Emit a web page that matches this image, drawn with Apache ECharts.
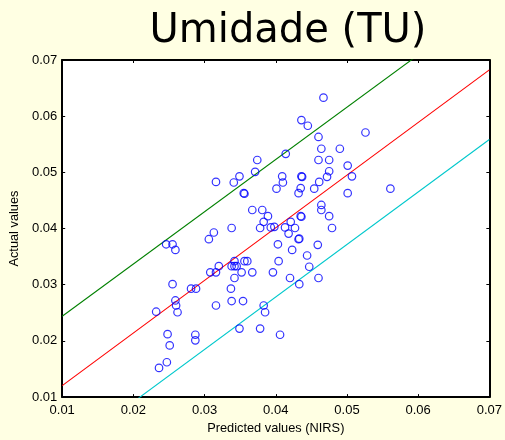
<!DOCTYPE html>
<html>
<head>
<meta charset="utf-8">
<script src="https://cdn.jsdelivr.net/npm/echarts@6/dist/echarts.min.js"></script>
<style>
  html, body { margin: 0; padding: 0; background: #FFFFE3; }
  #chart { width: 505px; height: 440px; }
</style>
</head>
<body>
<div id="chart"></div>
<script>
// Texts
const titleText = 'Umidade (TU)';
const xAxisName = 'Predicted values (NIRS)';
const yAxisName = 'Actual values';

// Axis range and tick labels (same on both axes)
const axisMin = 0.01;
const axisMax = 0.07;
const axisStep = 0.01;
const tickLabels = ['0.01', '0.02', '0.03', '0.04', '0.05', '0.06', '0.07'];

// Samples: NIRS prediction vs. reference value
const predicted = [
  0.0374, 0.0371, 0.0349, 0.0341, 0.0316, 0.0355, 0.0356, 0.0401, 0.0367, 0.0381,
  0.0389, 0.0383, 0.0378, 0.0338, 0.0313, 0.0393, 0.0398, 0.0467, 0.0436, 0.0445,
  0.0526, 0.0460, 0.0414, 0.0464, 0.0490, 0.0460, 0.0475, 0.0501, 0.0409, 0.0436,
  0.0437, 0.0410, 0.0475, 0.0472, 0.0507, 0.0461, 0.0435, 0.0454, 0.0432, 0.0501,
  0.0561, 0.0464, 0.0464, 0.0435, 0.0436, 0.0475, 0.0421, 0.0413, 0.0427, 0.0479,
  0.0306, 0.0246, 0.0255, 0.0259, 0.0403, 0.0342, 0.0356, 0.0360, 0.0320, 0.0338,
  0.0342, 0.0345, 0.0308, 0.0316, 0.0352, 0.0367, 0.0396, 0.0404, 0.0342, 0.0255,
  0.0281, 0.0288, 0.0337, 0.0259, 0.0260, 0.0262, 0.0232, 0.0316, 0.0338, 0.0354,
  0.0383, 0.0385, 0.0248, 0.0287, 0.0287, 0.0251, 0.0349, 0.0378, 0.0406, 0.0247,
  0.0236, 0.0418, 0.0432, 0.0433, 0.0459, 0.0423, 0.0444, 0.0447, 0.0420, 0.0460,
  0.0433
];
const actual = [
  0.0522, 0.0501, 0.0493, 0.0482, 0.0483, 0.0463, 0.0462, 0.0471, 0.0433, 0.0433,
  0.0422, 0.0412, 0.0401, 0.0401, 0.0393, 0.0402, 0.0403, 0.0633, 0.0593, 0.0583,
  0.0571, 0.0563, 0.0533, 0.0542, 0.0542, 0.0522, 0.0522, 0.0512, 0.0493, 0.0493,
  0.0492, 0.0482, 0.0502, 0.0492, 0.0493, 0.0483, 0.0472, 0.0471, 0.0463, 0.0463,
  0.0471, 0.0442, 0.0433, 0.0422, 0.0421, 0.0422, 0.0412, 0.0402, 0.0401, 0.0401,
  0.0381, 0.0372, 0.0372, 0.0362, 0.0372, 0.0342, 0.0342, 0.0342, 0.0333, 0.0333,
  0.0333, 0.0333, 0.0322, 0.0322, 0.0322, 0.0322, 0.0322, 0.0342, 0.0312, 0.0301,
  0.0293, 0.0293, 0.0293, 0.0272, 0.0263, 0.0251, 0.0252, 0.0263, 0.0271, 0.0271,
  0.0263, 0.0251, 0.0212, 0.0211, 0.0201, 0.0192, 0.0222, 0.0222, 0.0211, 0.0162,
  0.0152, 0.0391, 0.0381, 0.0382, 0.0371, 0.0362, 0.0352, 0.0332, 0.0312, 0.0312,
  0.0301
];

// Regression line and its upper / lower limits, given at the two ends of the x range
const lineX = [0.01, 0.07];
const fitLineY = [0.01205, 0.06825];
const upperLineY = [0.0244, 0.0802];
const lowerLineY = [-0.0002, 0.05585];

const tickFont = 'Liberation Sans, Arial, sans-serif';

function tickFormatter(v) {
  const i = Math.round((v - axisMin) / axisStep);
  return tickLabels[i] !== undefined ? tickLabels[i] : '';
}

function frameAxis(position, isMain, extra) {
  return Object.assign({
    type: 'value',
    position: position,
    min: axisMin,
    max: axisMax,
    interval: axisStep,
    axisLine: { show: true, onZero: false, lineStyle: { color: '#000', width: 2 } },
    axisTick: { show: true, inside: true, length: 3, lineStyle: { color: '#000', width: 1 } },
    axisLabel: isMain ? {
      show: true, color: '#000', fontSize: 13, fontFamily: tickFont,
      margin: position === 'bottom' ? 7 : 5,
      formatter: tickFormatter, showMinLabel: true, showMaxLabel: true
    } : { show: false },
    splitLine: { show: false }
  }, extra || {});
}

function linePoints(ys) {
  return lineX.map((x, i) => [x, ys[i]]);
}

function lineSeries(ys, color) {
  return {
    type: 'line',
    data: linePoints(ys),
    showSymbol: false,
    symbol: 'none',
    clip: true,
    silent: true,
    lineStyle: { color: color, width: 1.1 },
    z: 2
  };
}

const chart = echarts.init(document.getElementById('chart'), null, { renderer: 'canvas' });

chart.setOption({
  animation: false,
  backgroundColor: '#FFFFE3',
  graphic: [{
    type: 'text',
    x: 288,
    y: 32,
    style: {
      text: titleText,
      fontSize: 40,
      fontFamily: 'DejaVu Sans, sans-serif',
      fill: '#000',
      align: 'center',
      verticalAlign: 'middle'
    }
  }],
  grid: {
    left: 61, right: 10, top: 60, bottom: 38,
    show: true, backgroundColor: '#FFFFFF', borderWidth: 0
  },
  xAxis: [
    frameAxis('bottom', true, {
      name: xAxisName,
      nameLocation: 'middle',
      nameGap: 24,
      nameTextStyle: { color: '#000', fontSize: 12.8, fontFamily: tickFont }
    }),
    frameAxis('top', false)
  ],
  yAxis: [
    frameAxis('left', true, {
      name: yAxisName,
      nameLocation: 'middle',
      nameGap: 33,
      nameTextStyle: { color: '#000', fontSize: 12.8, fontFamily: tickFont }
    }),
    frameAxis('right', false)
  ],
  series: [
    {
      type: 'scatter',
      data: predicted.map((x, i) => [x, actual[i]]),
      symbol: 'circle',
      symbolSize: 7.5,
      itemStyle: { color: 'rgba(0,0,0,0)', borderColor: '#0000FF', borderWidth: 1.2 },
      z: 3
    },
    lineSeries(upperLineY, '#008000'),
    lineSeries(fitLineY, '#FF0000'),
    lineSeries(lowerLineY, '#00C8CC')
  ]
});
</script>
</body>
</html>
